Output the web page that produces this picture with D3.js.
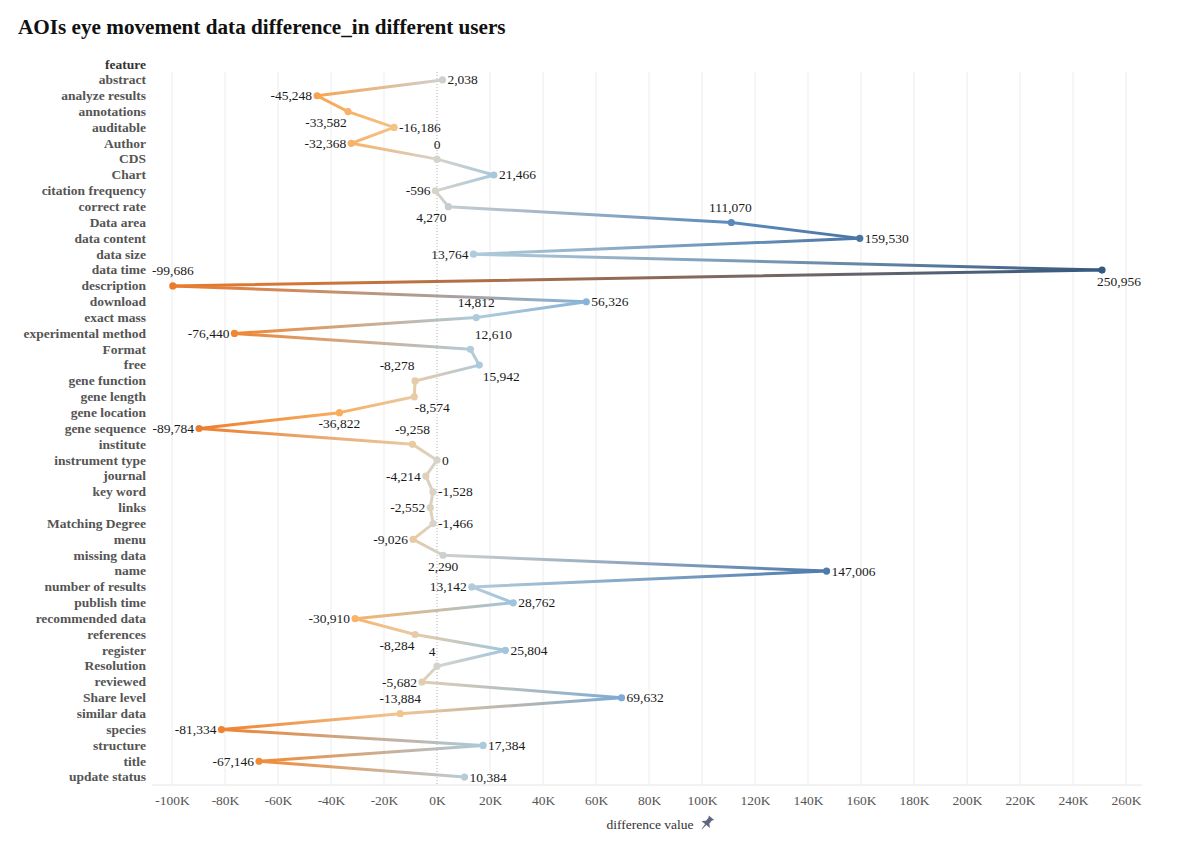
<!DOCTYPE html>
<html>
<head>
<meta charset="utf-8">
<script src="https://cdn.jsdelivr.net/npm/d3@7"></script>
<style>
  body { margin: 0; background: #fff; }
  svg { display: block; }
  text { font-family: "Liberation Serif", "Times New Roman", serif; }
</style>
</head>
<body>
<svg id="chart" width="1200" height="853"></svg>
<script>
// ---------- data ----------
const features = [
  "abstract","analyze results","annotations","auditable","Author","CDS","Chart",
  "citation frequency","correct rate","Data area","data content","data size","data time",
  "description","download","exact mass","experimental method","Format","free",
  "gene function","gene length","gene location","gene sequence","institute",
  "instrument type","journal","key word","links","Matching Degree","menu",
  "missing data","name","number of results","publish time","recommended data",
  "references","register","Resolution","reviewed","Share level","similar data",
  "species","structure","title","update status"
];
const diffValues = [
  2038, -45248, -33582, -16186, -32368, 0, 21466,
  -596, 4270, 111070, 159530, 13764, 250956,
  -99686, 56326, 14812, -76440, 12610, 15942,
  -8278, -8574, -36822, -89784, -9258,
  0, -4214, -1528, -2552, -1466, -9026,
  2290, 147006, 13142, 28762, -30910,
  -8284, 25804, 4, -5682, 69632, -13884,
  -81334, 17384, -67146, 10384
];
const xTicks = [-100000,-80000,-60000,-40000,-20000,0,20000,40000,60000,80000,100000,
  120000,140000,160000,180000,200000,220000,240000,260000];

// label placement (r=right, l=left, a=above, b=below) and horizontal nudge
const labelSide = [
  "r","l","b","r","l","a","r",
  "l","b","a","r","l","b",
  "a","r","a","l","a","b",
  "a","b","b","l","a",
  "r","l","r","l","r","l",
  "b","r","l","r","l",
  "b","r","a","l","r","a",
  "l","r","l","r"
];
const labelNudge = [
  0,0,-22,0,0,0,0,
  0,-17,-1,0,0,17,
  0,2,0,0,23,22,
  -18,18,0,0,0,
  0,0,0,0,0,0,
  0,0,0,0,0,
  -18,0,-5,0,0,0,
  0,0,0,0
];

// ---------- layout ----------
const svg = d3.select("#chart");
const plotLeft = 152, plotRight = 1142, plotTop = 72, plotBottom = 785;
const FS = 13.5;

const x = d3.scaleLinear().domain([-100000, 260000]).range([172, 1126]);
const y = d3.scaleBand().domain(features).range([plotTop, plotBottom]);
const yc = f => y(f) + y.bandwidth() / 2;

const locale = d3.formatLocale({decimal: ".", thousands: ",", grouping: [3], currency: ["$", ""], minus: "-"});
const fmt = locale.format(",");

// colour: diverging orange - grey - blue, full range on each side
const negColor = d3.scaleLinear()
  .domain([-99686, -60000, -40000, -15000, -5000, 0])
  .range(["#ea7a2c", "#f38f38", "#f9ab58", "#f4c38a", "#dfcfb6", "#d6d3cc"])
  .interpolate(d3.interpolateRgb);
const posColor = d3.scaleLinear()
  .domain([0, 5000, 15000, 30000, 70000, 111000, 160000, 250956])
  .range(["#d6d3cc", "#c5ccd0", "#aecbdc", "#9ec3dc", "#7eabd3", "#5a8abb", "#4a76a6", "#355a82"])
  .interpolate(d3.interpolateRgb);
const color = v => v < 0 ? negColor(v) : posColor(v);

// title
svg.append("text")
  .attr("x", 18).attr("y", 34)
  .attr("font-size", 21.2).attr("font-weight", "bold").attr("fill", "#111")
  .text("AOIs eye movement data difference_in different users");

// gridlines
const grid = svg.append("g");
grid.selectAll("line.g").data(xTicks.filter(t => t !== 0)).join("line")
  .attr("x1", d => x(d)).attr("x2", d => x(d))
  .attr("y1", plotTop).attr("y2", plotBottom)
  .attr("stroke", "#ececec").attr("stroke-width", 1);
grid.append("line")
  .attr("x1", x(0)).attr("x2", x(0)).attr("y1", plotTop).attr("y2", plotBottom)
  .attr("stroke", "#b0b0b0").attr("stroke-width", 1).attr("stroke-dasharray", "1,2");

// x axis
const xAxis = d3.axisBottom(x).tickValues(xTicks)
  .tickFormat(d => (d / 1000) + "K").tickSize(0).tickPadding(10);
const gx = svg.append("g").attr("transform", `translate(0,${plotBottom})`).call(xAxis);
gx.select(".domain").remove();
gx.append("line").attr("x1", plotLeft).attr("x2", plotRight).attr("y1", 0).attr("y2", 0)
  .attr("stroke", "#e6e6e6");
gx.selectAll("text").attr("font-size", FS).attr("fill", "#555")
  .attr("font-family", "Liberation Serif, Times New Roman, serif");

svg.append("text").attr("x", 650).attr("y", 829).attr("text-anchor", "middle")
  .attr("font-size", FS).attr("fill", "#333").text("difference value");
// pin icon
svg.append("path")
  .attr("transform", "translate(707,823) rotate(40)")
  .attr("d", "M-3.5,-7 L3.5,-7 L2.2,-5 L2.2,-1 L5.5,2 L-5.5,2 L-2.2,-1 L-2.2,-5 Z M-0.7,2 L0.7,2 L0.3,8 L-0.3,8 Z")
  .attr("fill", "#5f6580");

// y axis labels
svg.append("text").attr("x", 146).attr("y", yc(features[0]) - 15.8)
  .attr("text-anchor", "end").attr("dominant-baseline", "central")
  .attr("font-size", FS).attr("font-weight", "bold").attr("fill", "#333").text("feature");
const yAxis = d3.axisLeft(y).tickSize(0).tickPadding(0);
const gy = svg.append("g").attr("transform", "translate(146,0)").call(yAxis);
gy.select(".domain").remove();
gy.selectAll("text").attr("font-size", FS).attr("font-weight", "bold").attr("fill", "#555")
  .attr("font-family", "Liberation Serif, Times New Roman, serif");

// data points
const pts = features.map((f, i) => ({f, v: diffValues[i], side: labelSide[i], nudge: labelNudge[i]}));

// segment gradients
const defs = svg.append("defs");
const segs = d3.pairs(pts);
segs.forEach(([a, b], i) => {
  const g = defs.append("linearGradient").attr("id", "seg" + i)
    .attr("gradientUnits", "userSpaceOnUse")
    .attr("x1", x(a.v)).attr("y1", yc(a.f)).attr("x2", x(b.v)).attr("y2", yc(b.f));
  g.append("stop").attr("offset", "0%").attr("stop-color", color(a.v));
  g.append("stop").attr("offset", "100%").attr("stop-color", color(b.v));
});
svg.append("g").selectAll("line").data(segs).join("line")
  .attr("x1", d => x(d[0].v)).attr("y1", d => yc(d[0].f))
  .attr("x2", d => x(d[1].v)).attr("y2", d => yc(d[1].f))
  .attr("stroke", (d, i) => `url(#seg${i})`)
  .attr("stroke-width", 3).attr("stroke-linecap", "round");

svg.append("g").selectAll("circle").data(pts).join("circle")
  .attr("cx", d => x(d.v)).attr("cy", d => yc(d.f)).attr("r", 3.6)
  .attr("fill", d => color(d.v));

// value labels
svg.append("g").selectAll("text").data(pts).join("text")
  .attr("x", d => {
    const px = x(d.v);
    if (d.side === "r") return px + 5;
    if (d.side === "l") return px - 5;
    return px + d.nudge;
  })
  .attr("y", d => {
    const py = yc(d.f);
    if (d.side === "a") return py - 15;
    if (d.side === "b") return py + 11;
    return py;
  })
  .attr("text-anchor", d => d.side === "r" ? "start" : d.side === "l" ? "end" : "middle")
  .attr("dominant-baseline", "central")
  .attr("font-size", FS).attr("fill", "#1a1a1a")
  .text(d => fmt(d.v));
</script>
</body>
</html>
